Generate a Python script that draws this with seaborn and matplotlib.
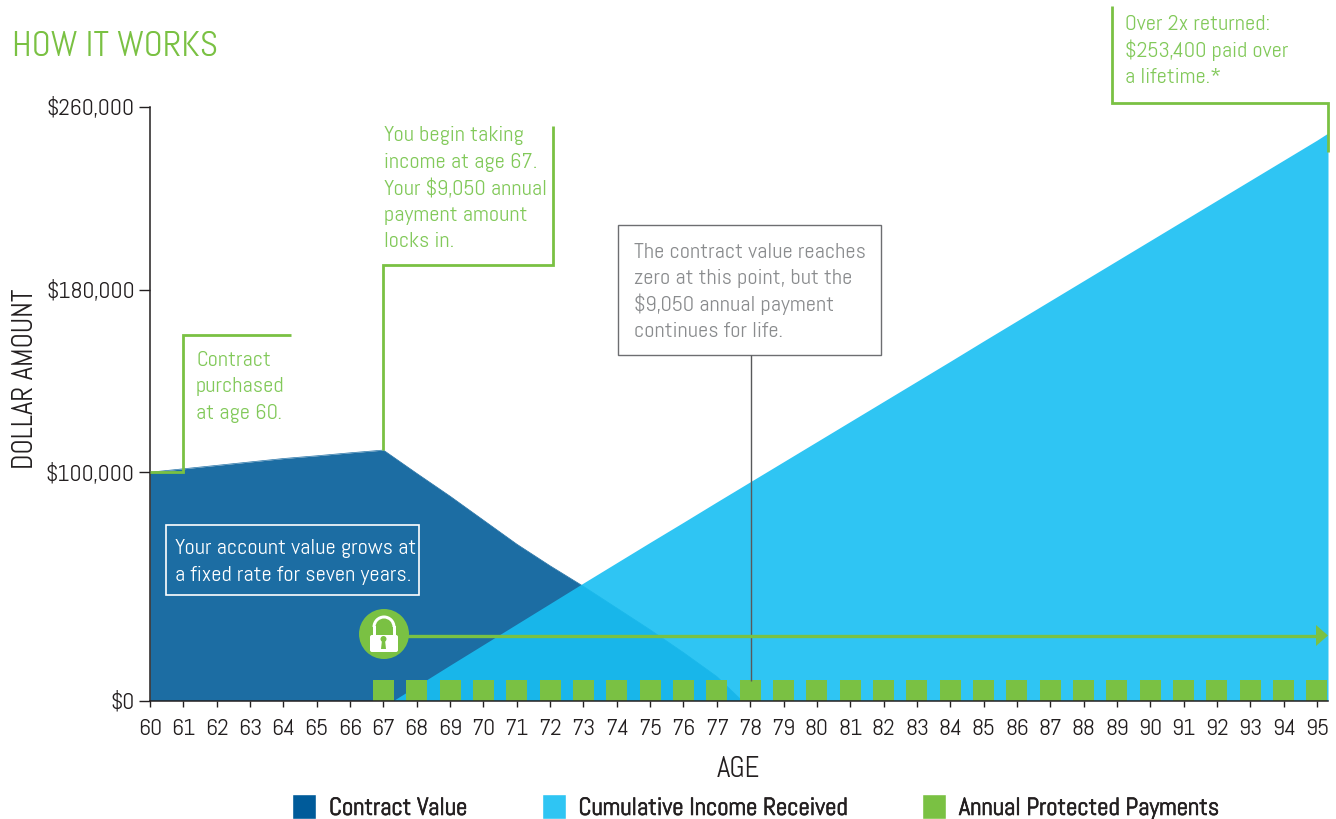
import matplotlib
matplotlib.use("Agg")
import matplotlib.pyplot as plt
import matplotlib.transforms as mtrans
import matplotlib.patheffects as pe
from matplotlib.patches import Rectangle, Circle, Polygon, FancyBboxPatch, Patch, Wedge
from matplotlib.lines import Line2D
from matplotlib import font_manager as fm
from matplotlib.font_manager import FontProperties
from matplotlib.textpath import TextPath
import seaborn as sns
import pandas as pd

# ---------- data ----------
contract_ages = [60, 61, 62, 63, 64, 65, 66, 67, 68, 69, 70, 71, 72, 73, 74, 75, 76, 77, 77.75]
contract_values = [100000, 101500, 103000, 104500, 106000, 107200, 108500, 109700, 99500, 89500,
                   79000, 68500, 59000, 50000, 40500, 31000, 21000, 10500, 0]
income_ages = [67.3, 68, 69, 70, 71, 72, 73, 74, 75, 76, 77, 78, 79, 80, 81, 82, 83, 84, 85,
               86, 87, 88, 89, 90, 91, 92, 93, 94, 95, 95.33]
income_values = [0, 6400, 15500, 24500, 33500, 42500, 51500, 60400, 69300, 78100, 87000, 95800,
                 104600, 113400, 122200, 131000, 139800, 148600, 157500, 166300, 175100, 183900,
                 192700, 201500, 210300, 219100, 227900, 236700, 245500, 248600]
payment_ages = list(range(67, 96))
payment_values = [9050] * len(payment_ages)
x_ticks = list(range(60, 96))
y_ticks = [0, 100000, 180000, 260000]
y_labels = ["$0", "$100,000", "$180,000", "$260,000"]
legend_labels = ["Contract Value", "Cumulative Income Received", "Annual Protected Payments"]

DARK, LIGHT, GREEN = "#1C6DA3", "#18BFF2", "#7AC143"
LEG_LIGHT = "#2FC5F3"
LEG_DARK = "#005B9A"
TXT_GREEN = "#82C95A"
GREY = "#8A8C8E"
INK = "#231F20"

sns.set_theme(style="white")
installed = {f.name for f in fm.fontManager.ttflist}
base = next(n for n in ["Abel", "Pathway Gothic One", "Liberation Sans", "DejaVu Sans"] if n in installed)
plt.rcParams["font.family"] = [base, "DejaVu Sans"]
_prop = FontProperties(family=base)


def fit(s, width_px):
    """Font size in points that makes string s about width_px wide at 100 dpi."""
    w = TextPath((0, 0), s, size=10, prop=_prop).get_extents().width * 100 / 72
    return 10 * width_px / w


BODY = fit("The contract value reaches", 229)
TICK = fit("$260,000", 85)
TITLE = fit("HOW IT WORKS", 201)
YLAB = fit("DOLLAR AMOUNT", 178)
XLAB = fit("AGE", 42)
LEG = fit("Cumulative Income Received", 266)

W, H = 1336, 819
fig = plt.figure(figsize=(W / 100, H / 100), dpi=100)
ax = fig.add_axes([150 / W, 1 - 700.5 / H, (1328 - 150) / W, (700.5 - 107) / H])
px = mtrans.Affine2D().scale(1 / W, -1 / H).translate(0, 1) + fig.transFigure

contract = pd.DataFrame({"age": contract_ages, "value": contract_values})
income = pd.DataFrame({"age": income_ages, "value": income_values})
pay = pd.DataFrame({"age": payment_ages, "value": payment_values})

ax.fill_between(contract["age"], contract["value"], color=DARK, lw=0, zorder=1)
sns.lineplot(data=contract, x="age", y="value", color=DARK, lw=0.5, ax=ax, zorder=1)
ax.fill_between(income["age"], income["value"], color=LIGHT, alpha=0.9, lw=0, zorder=2)
sns.barplot(data=pay, x="age", y="value", native_scale=True, width=0.63, color=GREEN,
            saturation=1, linewidth=0, edgecolor="none", ax=ax, zorder=3)

ax.set_xlim(60, 95.33)
ax.set_ylim(0, 260000)
ax.set_xticks(x_ticks)
ax.set_xticklabels([str(a) for a in x_ticks])
ax.set_yticks(y_ticks)
ax.set_yticklabels(y_labels)
ax.set_xlabel("")
ax.set_ylabel("")
ax.tick_params(axis="x", length=4.5, width=1, color=INK, labelsize=TICK, labelcolor=INK, pad=8.7, bottom=True)
ax.tick_params(axis="y", length=8, width=1, color=INK, labelsize=TICK, labelcolor=INK, pad=3, left=True)
for s in ("top", "right"):
    ax.spines[s].set_visible(False)
for s in ("left", "bottom"):
    ax.spines[s].set_color(INK)
    ax.spines[s].set_linewidth(1.1)
    ax.spines[s].set_zorder(5)


def poly(xs, ys, color=GREEN, lw=2.0, z=6):
    fig.add_artist(Line2D(xs, ys, transform=px, color=color, lw=lw, zorder=z,
                          solid_joinstyle="miter", solid_capstyle="butt"))


def txt(x, y, s, color=TXT_GREEN, size=BODY, **kw):
    kw.setdefault("va", "center")
    kw.setdefault("ha", "left")
    fig.text(x, y + 1.5, s, transform=px, color=color, fontsize=size, zorder=8, **kw)


def lines(x, ys, rows, **kw):
    for y, r in zip(ys, rows):
        txt(x, y, r, **kw)


# titles and axis labels
txt(12, 45, "HOW IT WORKS", color=GREEN, size=TITLE)
txt(26, 377, "DOLLAR AMOUNT", color=INK, size=YLAB, rotation=90, ha="center")
txt(738, 768, "AGE", color=INK, size=XLAB, ha="center")

# callouts
poly([150, 183, 183, 291], [472, 472, 335, 335])
lines(196, [359, 385, 412], ["Contract", "purchased", "at age 60."])
poly([383, 383, 553, 553], [450, 265, 265, 126])
lines(384, [134, 161, 187, 214, 240],
      ["You begin taking", "income at age 67.", "Your $9,050 annual", "payment amount", "locks in."])
poly([1112, 1112, 1328, 1328], [6, 103, 103, 152])
lines(1125, [23, 49, 76], ["Over 2x returned:", "$253,400 paid over", "a lifetime.*"])

# grey note
fig.add_artist(Rectangle((618, 225), 263, 130, transform=px, fill=False, ec="#6D6E71", lw=1, zorder=6))
poly([751, 751], [355, 681], color="#58595B", lw=1)
lines(634, [251, 277, 303, 330],
      ["The contract value reaches", "zero at this point, but the", "$9,050 annual payment", "continues for life."],
      color=GREY)

# white note
fig.add_artist(Rectangle((165.5, 525), 253, 70, transform=px, fill=False, ec="white", lw=1.2, zorder=6))
lines(175, [547, 574], ["Your account value grows at", "a fixed rate for seven years."], color="white")

# arrow and lock
poly([405, 1318], [636, 636], lw=2.4)
fig.add_artist(Polygon([(1316, 625), (1328, 635.5), (1316, 646)], closed=True, transform=px,
                       fc=GREEN, ec="none", zorder=6))
fig.add_artist(Circle((384, 634), 25, transform=px, fc=GREEN, ec="none", zorder=7))
fig.add_artist(Wedge((384, 627), 11.5, 180, 360, width=3, transform=px, fc="white", ec="none", zorder=8))
fig.add_artist(Rectangle((372.5, 626), 3, 9, transform=px, fc="white", ec="none", zorder=8))
fig.add_artist(Rectangle((392.5, 626), 3, 9, transform=px, fc="white", ec="none", zorder=8))
fig.add_artist(FancyBboxPatch((370, 635), 28, 17, boxstyle="round,pad=0,rounding_size=2", transform=px,
                              fc="white", ec="none", zorder=8))
fig.add_artist(Circle((383.5, 639), 3, transform=px, fc=GREEN, ec="none", zorder=9))
fig.add_artist(Polygon([(382, 640), (385, 640), (386, 649), (381, 649)], closed=True, transform=px,
                       fc=GREEN, ec="none", zorder=9))

# legend
handles = [Patch(fc=LEG_DARK), Patch(fc=LEG_LIGHT), Patch(fc=GREEN)]
em = LEG * 100 / 72  # font size in pixels
leg = fig.legend(handles, legend_labels, ncol=3, loc="center left", bbox_to_anchor=(292 / W, 1 - 807 / H),
                 frameon=False, fontsize=LEG, handlelength=24 / em, handleheight=(25 / em - 0.245) / 0.65,
                 handletextpad=13 / em, columnspacing=74 / em, labelcolor=INK, borderpad=0, borderaxespad=0)
for t in leg.get_texts():
    t.set_path_effects([pe.withStroke(linewidth=0.5, foreground=INK)])

fig.savefig("out.png", dpi=100, facecolor="white")
